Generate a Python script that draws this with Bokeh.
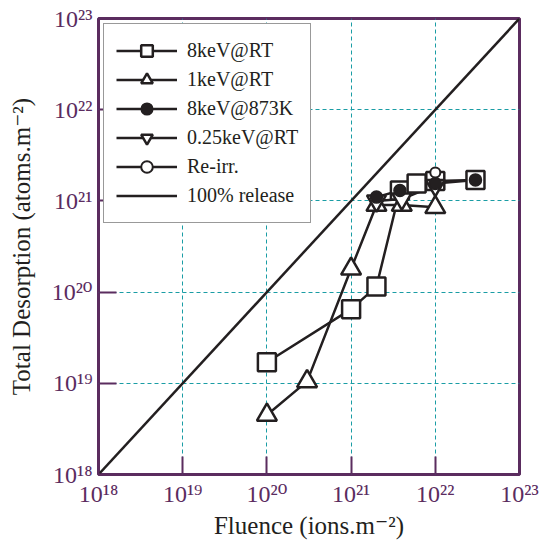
from bokeh.plotting import figure
from bokeh.models import Range1d, FixedTicker, Legend, LegendItem
from bokeh.embed import file_html
from bokeh.resources import INLINE

# ---------------- data ----------------
rt8_x = [1e20, 1e21, 2e21, 3.8e21, 6e21, 1e22, 3e22]
rt8_y = [1.7e19, 6.5e19, 1.15e20, 1.3e21, 1.55e21, 1.65e21, 1.7e21]

rt1_x = [1e20, 3e20, 1e21, 2e21, 4e21, 1e22]
rt1_y = [4.5e18, 1.05e19, 1.8e20, 9e20, 9e20, 8.5e20]

k873_x = [2e21, 3.8e21, 1e22, 3e22]
k873_y = [1.1e21, 1.3e21, 1.55e21, 1.7e21]

rt025_x = [2e21, 4e21, 1e22]
rt025_y = [1.0e21, 1.05e21, 1.48e21]

reirr_x = [1e22]
reirr_y = [2.05e21]

release_x = [1e18, 1e23]
release_y = [1e18, 1e23]

series_labels = ["8keV@RT", "1keV@RT", "8keV@873K", "0.25keV@RT", "Re-irr.", "100% release"]

tick_values = [1e18, 1e19, 1e20, 1e21, 1e22, 1e23]
tick_labels = ["10\u00b9\u2078", "10\u00b9\u2079", "10\u00b2\u2070",
               "10\u00b2\u00b9", "10\u00b2\u00b2", "10\u00b2\u00b3"]
grid_values = [1e19, 1e20, 1e21, 1e22]

x_title = "Fluence (ions.m\u207b\u00b2)"
y_title = "Total Desorption (atoms.m\u207b\u00b2)"

# ---------------- style ----------------
PURPLE = "#5b2c5f"
INK = "#231f20"
TEAL = "#1a9da5"
FONT = "'Liberation Serif', 'DejaVu Serif', serif"

p = figure(width=553, height=542, x_axis_type="log", y_axis_type="log",
           x_range=Range1d(1e18, 1e23), y_range=Range1d(1e18, 1e23),
           output_backend="svg", toolbar_location=None,
           min_border_left=98, min_border_right=34, min_border_top=18, min_border_bottom=68)

p.background_fill_color = "white"
p.border_fill_color = "white"
p.outline_line_color = PURPLE
p.outline_line_width = 3

overrides = {t: lab for t, lab in zip(tick_values, tick_labels)}

for ax in (p.xaxis[0], p.yaxis[0]):
    ax.ticker = FixedTicker(ticks=tick_values)
    ax.major_label_overrides = overrides
    ax.axis_line_color = None
    ax.major_tick_in = 18
    ax.major_tick_out = 0
    ax.major_tick_line_color = PURPLE
    ax.major_tick_line_width = 2
    ax.minor_tick_line_color = None
    ax.major_label_text_font = FONT
    ax.major_label_text_font_size = "24px"
    ax.major_label_text_color = PURPLE
    ax.axis_label_text_font = FONT
    ax.axis_label_text_font_size = "25px"
    ax.axis_label_text_font_style = "normal"
    ax.axis_label_text_color = INK

p.xaxis.axis_label = x_title
p.yaxis.axis_label = y_title
p.xaxis.major_label_standoff = 6
p.xaxis.axis_label_standoff = 2
p.yaxis.major_label_standoff = 6
p.yaxis.axis_label_standoff = 14

for g in (p.xgrid[0], p.ygrid[0]):
    g.ticker = FixedTicker(ticks=grid_values)
    g.grid_line_color = TEAL
    g.grid_line_dash = "4 3"
    g.grid_line_width = 1

LW = 2.5

r_rel = p.line(release_x, release_y, line_color=INK, line_width=LW)

l1 = p.line(rt8_x, rt8_y, line_color=INK, line_width=LW)
l2 = p.line(rt1_x, rt1_y, line_color=INK, line_width=LW)
l3 = p.line(k873_x, k873_y, line_color=INK, line_width=LW)
l4 = p.line(rt025_x, rt025_y, line_color=INK, line_width=LW)
l5 = p.line(reirr_x, reirr_y, line_color=INK, line_width=LW)

s1 = p.scatter(rt8_x, rt8_y, marker="square", size=18, fill_color="white",
               line_color=INK, line_width=LW)
s2 = p.scatter(rt1_x, rt1_y, marker="triangle", size=20, fill_color="white",
               line_color=INK, line_width=LW)
s4 = p.scatter(rt025_x, rt025_y, marker="inverted_triangle", size=19, fill_color="white",
               line_color=INK, line_width=LW)
s3 = p.scatter(k873_x, k873_y, marker="circle", size=12, fill_color=INK,
               line_color=INK, line_width=1.5)
s5 = p.scatter(reirr_x, reirr_y, marker="circle", size=10, fill_color="white",
               line_color=INK, line_width=2)

legend = Legend(items=[
    LegendItem(label=series_labels[0], renderers=[l1, s1]),
    LegendItem(label=series_labels[1], renderers=[l2, s2]),
    LegendItem(label=series_labels[2], renderers=[l3, s3]),
    LegendItem(label=series_labels[3], renderers=[l4, s4]),
    LegendItem(label=series_labels[4], renderers=[l5, s5]),
    LegendItem(label=series_labels[5], renderers=[r_rel]),
], location="top_left")
legend.margin = 5
legend.padding = 12
legend.glyph_width = 61
legend.glyph_height = 29
legend.label_height = 29
legend.spacing = 0
legend.label_standoff = 10
legend.label_text_font = FONT
legend.label_text_font_size = "20px"
legend.label_text_color = INK
legend.border_line_color = "#333333"
legend.border_line_width = 1.5
legend.background_fill_color = "white"
legend.background_fill_alpha = 1.0
p.add_layout(legend)

open("out.html", "w").write(file_html(p, INLINE))
